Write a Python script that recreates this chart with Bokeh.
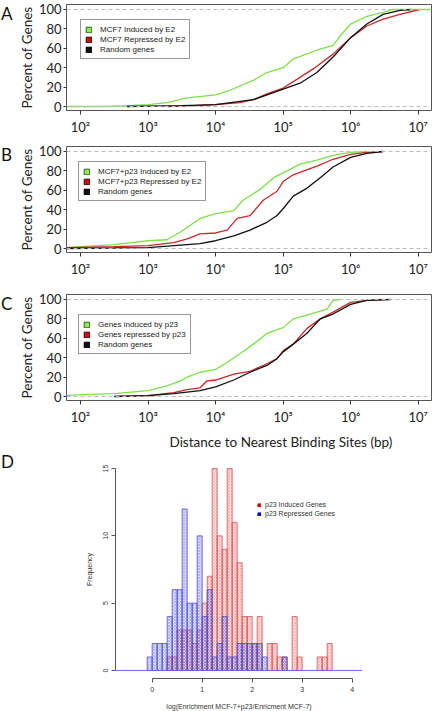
import numpy as np
from bokeh.plotting import figure
from bokeh.models import Range1d, FixedTicker, Span, Legend, LegendItem, Title, Div
from bokeh.layouts import column, row
from bokeh.embed import file_html
from bokeh.resources import INLINE

# ---------------- data ----------------
x_tick_exponents = [2, 3, 4, 5, 6, 7]
x_tick_labels = ["10²", "10³", "10⁴", "10⁵", "10⁶", "10⁷"]
y_ticks = [0, 20, 40, 60, 80, 100]

# Panel A
a_labels = ["MCF7 Induced by E2", "MCF7 Repressed by E2", "Random genes"]
a_green_logx = [1.79, 2.4, 2.7, 3.0, 3.28, 3.58, 4.0, 4.22, 4.56, 4.76, 5.0, 5.15, 5.5, 5.74, 5.87, 6.0, 6.24, 6.48, 6.63, 7.2]
a_green_pct = [0, 0, 1, 2, 4, 9, 12, 17, 27, 35, 40, 49, 58, 63, 75, 85, 93, 97, 100, 100]
a_red_logx = [3.3, 3.7, 4.0, 4.36, 4.56, 4.76, 5.0, 5.25, 5.45, 5.74, 6.0, 6.24, 6.48, 6.73, 7.02]
a_red_pct = [0, 1, 2, 4, 7, 13, 19, 30, 39, 54, 71, 83, 90, 95, 100]
a_black_logx = [2.69, 3.5, 4.0, 4.56, 5.0, 5.25, 5.5, 5.74, 6.0, 6.24, 6.48, 6.73, 6.9]
a_black_pct = [0, 1, 2, 7, 18, 24, 35, 51, 71, 85, 95, 99, 100]

# Panel B
b_labels = ["MCF7+p23 Induced by E2", "MCF7+p23 Repressed by E2", "Random genes"]
b_green_logx = [1.79, 2.0, 2.5, 3.0, 3.28, 3.48, 3.77, 4.0, 4.27, 4.41, 4.66, 4.86, 5.0, 5.25, 5.5, 5.74, 6.0, 6.24]
b_green_pct = [1, 2, 4, 8, 9, 17, 31, 36, 39, 50, 61, 73, 78, 87, 91, 96, 99, 100]
b_red_logx = [1.79, 2.5, 3.0, 3.38, 3.58, 3.77, 4.0, 4.17, 4.32, 4.51, 4.71, 4.91, 5.0, 5.15, 5.5, 5.74, 6.0, 6.24, 6.48]
b_red_pct = [1, 2, 3, 6, 10, 15, 16, 19, 31, 34, 50, 59, 69, 76, 85, 92, 97, 99, 100]
b_black_logx = [1.79, 2.5, 3.0, 3.77, 4.0, 4.27, 4.51, 4.76, 4.91, 5.0, 5.15, 5.35, 5.55, 5.74, 6.0, 6.24, 6.48]
b_black_pct = [0, 0.5, 1, 5, 8, 13, 19, 27, 34, 41, 54, 62, 73, 84, 94, 98, 100]

# Panel C
c_labels = ["Genes induced by p23", "Genes repressed by p23", "Random genes"]
c_green_logx = [1.79, 2.0, 2.5, 3.0, 3.28, 3.48, 3.58, 3.77, 4.0, 4.17, 4.36, 4.56, 4.76, 5.0, 5.15, 5.40, 5.65, 5.74, 5.84]
c_green_pct = [1, 2, 3, 6, 11, 16, 20, 25, 28, 35, 44, 54, 65, 71, 80, 85, 90, 99, 100]
c_red_logx = [2.5, 3.0, 3.38, 3.58, 3.77, 3.87, 4.0, 4.27, 4.51, 4.71, 4.91, 5.0, 5.15, 5.35, 5.55, 5.74, 6.0, 6.24, 6.48]
c_red_pct = [0, 1, 4, 7, 9, 16, 17, 23, 26, 32, 39, 47, 54, 70, 80, 87, 97, 99, 100]
c_black_logx = [2.5, 3.0, 3.38, 3.77, 4.0, 4.27, 4.51, 4.76, 4.91, 5.0, 5.15, 5.35, 5.55, 5.74, 6.0, 6.24, 6.6]
c_black_pct = [0, 1, 3, 6, 10, 17, 25, 32, 39, 46, 54, 65, 80, 85, 95, 99, 100]
c_xlabel = "Distance to Nearest Binding Sites (bp)"

# Panel D (histogram, bin width 0.1)
d_bin_left = [-0.1, 0.0, 0.1, 0.2, 0.3, 0.4, 0.5, 0.6, 0.7, 0.8, 0.9, 1.0, 1.1, 1.2, 1.3, 1.4, 1.5, 1.6,
              1.7, 1.8, 1.9, 2.0, 2.1, 2.2, 2.3, 2.4, 2.5, 2.6, 2.7, 2.8, 2.9, 3.0, 3.1, 3.2, 3.3, 3.4, 3.5]
d_induced = [0, 0, 0, 0, 1, 1, 3, 3, 3, 2, 3, 5, 7, 15, 10, 9, 15, 11,
             8, 4, 4, 2, 4, 0, 2, 2, 1, 1, 0, 4, 1, 0, 0, 0, 1, 1, 2]
d_repressed = [1, 2, 2, 2, 4, 6, 6, 12, 5, 5, 10, 4, 6, 1, 2, 4, 1, 1,
               2, 2, 2, 2, 2, 1, 0, 0, 0, 1, 0, 0, 0, 0, 0, 0, 0, 0, 0]
d_bin_width = 0.1
d_labels = ["p23 Induced Genes", "p23 Repressed Genes"]
d_x_ticks = [0, 1, 2, 3, 4]
d_y_ticks = [0, 5, 10, 15]
d_xlabel = "log(Enrichment MCF-7+p23/Enricment MCF-7)"
d_ylabel = "Frequency"

GREEN = "#7ddf4a"
RED = "#cc2727"
BLACK = "#111111"
SQ = [("#88ee55", "#2f5f10"), ("#cc1111", "#440000"), ("#111111", "#000000")]

FONT = "Lato"
LETTER_W = 14


def letter_div(letter, height, pad_top):
    return Div(text=f'<div style="font-family:Lato;font-size:17px;line-height:17px;'
                    f'color:#111;padding-top:{pad_top}px;padding-left:1px">{letter}</div>',
               width=LETTER_W, height=height, margin=0)


def cdf_panel(curves, labels, fig_h, frame_top, leg_left, leg_top, xlabel=None):
    frame_h = 106
    p = figure(x_axis_type="log", frame_width=365, frame_height=frame_h,
               min_border_left=66 - LETTER_W, min_border_right=1, min_border_top=frame_top,
               min_border_bottom=fig_h - frame_top - frame_h,
               x_range=Range1d(10 ** 1.7927, 10 ** 7.197), y_range=Range1d(-4.12, 105.15),
               output_backend="svg", toolbar_location=None)
    p.xgrid.visible = False
    p.ygrid.visible = False
    p.outline_line_color = "#555555"
    p.outline_line_width = 1
    p.xaxis.ticker = FixedTicker(ticks=[10 ** e for e in x_tick_exponents])
    p.xaxis.major_label_overrides = {10 ** e: l for e, l in zip(x_tick_exponents, x_tick_labels)}
    p.yaxis.ticker = FixedTicker(ticks=y_ticks)
    for ax in (p.xaxis, p.yaxis):
        ax.axis_line_color = None
        ax.major_tick_line_color = "#333333"
        ax.major_tick_in = 0
        ax.minor_tick_line_color = None
        ax.major_label_text_font = FONT
        ax.major_label_text_font_size = "13px"
        ax.major_label_text_color = "#222222"
    p.xaxis.major_tick_out = 4
    p.xaxis.major_label_standoff = 4
    p.yaxis.major_tick_out = 3
    p.yaxis.major_label_standoff = 2
    p.yaxis.axis_label = "Percent of Genes"
    p.yaxis.axis_label_text_font = FONT
    p.yaxis.axis_label_text_font_size = "13.5px"
    p.yaxis.axis_label_text_font_style = "normal"
    p.yaxis.axis_label_text_color = "#222222"
    p.yaxis.axis_label_standoff = 1

    for loc in (0, 100):
        p.add_layout(Span(location=loc, dimension="width", line_color="#bbbbbb",
                          line_dash="4 3", line_width=1))
    colors = [GREEN, RED, BLACK]
    for (lx, pct), c in zip(curves, colors):
        p.line(10 ** np.array(lx), pct, line_color=c, line_width=1.3)

    items = []
    for lbl, (fc, lc) in zip(labels, SQ):
        r = p.quad(left=[np.nan], right=[np.nan], top=[np.nan], bottom=[np.nan],
                   fill_color=fc, line_color=lc, line_width=1)
        items.append(LegendItem(label=lbl, renderers=[r]))
    leg_h = 41
    legend = Legend(items=items, location=(leg_left, frame_h - leg_top - leg_h),
                    border_line_color="#333333", border_line_width=1,
                    background_fill_color="white", background_fill_alpha=1,
                    padding=4, spacing=0, margin=0, glyph_width=7, glyph_height=7,
                    label_height=10, label_standoff=8,
                    label_text_font="Liberation Sans", label_text_font_size="8px",
                    label_text_color="#222222")
    p.add_layout(legend)

    if xlabel:
        p.add_layout(Title(text=xlabel, align="left", offset=103, standoff=8,
                           text_font=FONT, text_font_size="13.5px", text_font_style="normal",
                           text_color="#222222"), "below")
    return p


pA = cdf_panel([(a_green_logx, a_green_pct), (a_red_logx, a_red_pct), (a_black_logx, a_black_pct)],
               a_labels, 140, 4, 14, 14)
pB = cdf_panel([(b_green_logx, b_green_pct), (b_red_logx, b_red_pct), (b_black_logx, b_black_pct)],
               b_labels, 146, 6, 12, 14)
pC = cdf_panel([(c_green_logx, c_green_pct), (c_red_logx, c_red_pct), (c_black_logx, c_black_pct)],
               c_labels, 166, 8, 12, 19, xlabel=c_xlabel)

# ---------------- histogram ----------------
fh = 218
pD = figure(frame_width=247, frame_height=fh, min_border_left=115 - LETTER_W, min_border_right=70,
            min_border_top=7, min_border_bottom=34,
            x_range=Range1d(-0.733, 4.207), y_range=Range1d(-0.6, 15.6),
            output_backend="svg", toolbar_location=None)
pD.xgrid.visible = False
pD.ygrid.visible = False
pD.outline_line_color = None
pD.xaxis.ticker = FixedTicker(ticks=d_x_ticks)
pD.yaxis.ticker = FixedTicker(ticks=d_y_ticks)
pD.xaxis.bounds = (d_x_ticks[0], d_x_ticks[-1])
pD.yaxis.bounds = (d_y_ticks[0], d_y_ticks[-1])
for ax in (pD.xaxis, pD.yaxis):
    ax.axis_line_color = "#555555"
    ax.major_tick_line_color = "#555555"
    ax.major_tick_in = 0
    ax.major_tick_out = 4
    ax.minor_tick_line_color = None
    ax.major_label_text_font = "Liberation Sans"
    ax.major_label_text_font_size = "7px"
    ax.major_label_text_color = "#333333"
    ax.axis_label_text_font = "Liberation Sans"
    ax.axis_label_text_font_size = "7px"
    ax.axis_label_text_font_style = "normal"
    ax.axis_label_text_color = "#333333"
pD.xaxis.major_label_standoff = 4
pD.yaxis.major_label_standoff = 3
pD.yaxis.major_label_orientation = "vertical"
pD.xaxis.axis_label = d_xlabel
pD.yaxis.axis_label = d_ylabel
pD.xaxis.axis_label_standoff = 8
pD.yaxis.axis_label_standoff = 8

bl = np.array(d_bin_left)
ind = np.array(d_induced)
rep = np.array(d_repressed)
mi = ind > 0
mr = rep > 0
pD.quad(left=bl[mi], right=bl[mi] + d_bin_width, bottom=0, top=ind[mi],
        fill_color="#e86868", fill_alpha=0.22, line_color="#d84848", line_alpha=0.75,
        line_width=1, hatch_pattern="diagonal_cross", hatch_color="#d83838",
        hatch_alpha=0.35, hatch_scale=3, hatch_weight=0.6)
pD.quad(left=bl[mr], right=bl[mr] + d_bin_width, bottom=0, top=rep[mr],
        fill_color="#5a5ae6", fill_alpha=0.22, line_color="#4848d0", line_alpha=0.75,
        line_width=1, hatch_pattern="diagonal_cross", hatch_color="#3a3ac8",
        hatch_alpha=0.38, hatch_scale=3, hatch_weight=0.6)
pD.add_layout(Span(location=0, dimension="width", line_color="#6868e0", line_width=1))

sq_r = pD.quad(left=[np.nan], right=[np.nan], top=[np.nan], bottom=[np.nan],
               fill_color="#cc1111", line_color="#cc1111")
sq_b = pD.quad(left=[np.nan], right=[np.nan], top=[np.nan], bottom=[np.nan],
               fill_color="#1111cc", line_color="#1111cc")
legD = Legend(items=[LegendItem(label=d_labels[0], renderers=[sq_r]),
                     LegendItem(label=d_labels[1], renderers=[sq_b])],
              location=(142, 160), border_line_color=None, background_fill_alpha=0,
              padding=0, spacing=0, margin=0, glyph_width=4, glyph_height=4,
              label_height=9, label_standoff=4,
              label_text_font="Liberation Sans", label_text_font_size="7px",
              label_text_color="#333333")
pD.add_layout(legD)

layout = column(
    row(letter_div("A", 140, 5), pA, spacing=0),
    row(letter_div("B", 146, 6), pB, spacing=0),
    row(letter_div("C", 166, 9), pC, spacing=0),
    row(letter_div("D", 259, 0), pD, spacing=0),
    spacing=0)
open("out.html", "w").write(file_html(layout, INLINE))
